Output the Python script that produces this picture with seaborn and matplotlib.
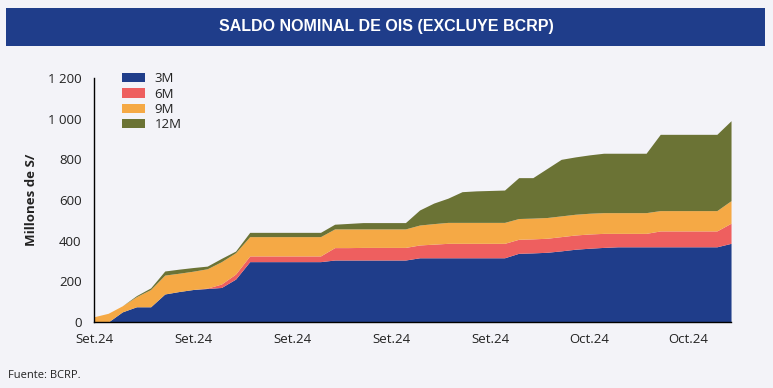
#!/usr/bin/env python3

import numpy as np
import matplotlib.pyplot as plt
import matplotlib.ticker as mticker
from matplotlib.patches import Rectangle
import seaborn as sns

# -----------------------------------------------------------------------------
# Data (millones de S/, saldo por plazo, stacked)
# -----------------------------------------------------------------------------

plazo_3m = [0, 0, 50, 75, 75, 138, 150, 160, 165, 170, 211, 297, 297, 297, 297,
            297, 297, 305, 305, 305, 305, 305, 305, 316, 316, 316, 316, 316, 316,
            316, 338, 340, 343, 350, 358, 363, 367, 370, 370, 370, 370, 370, 370,
            370, 370, 387]
plazo_6m = [0, 0, 0, 0, 0, 0, 0, 0, 2, 17, 25, 28, 28, 28, 28, 28, 28, 61, 61, 62,
            62, 62, 62, 63, 67, 71, 71, 71, 71, 71, 69, 69, 69, 70, 70, 70, 69, 66,
            66, 66, 78, 78, 78, 78, 78, 99]
plazo_9m = [26, 43, 30, 50, 85, 93, 90, 90, 95, 110, 105, 95, 95, 95, 95, 95, 95,
            92, 92, 91, 91, 91, 91, 98, 101, 103, 103, 103, 103, 103, 102, 102, 102,
            102, 102, 102, 102, 102, 102, 102, 100, 100, 100, 100, 100, 111]
plazo_12m = [0, 0, 0, 5, 8, 20, 20, 18, 13, 16, 8, 21, 21, 21, 21, 21, 21, 23, 27,
             31, 31, 31, 31, 74, 101, 119, 151, 155, 157, 159, 201, 199, 241, 278,
             282, 287, 292, 292, 292, 292, 375, 375, 375, 375, 375, 393]

series_labels = ["3M", "6M", "9M", "12M"]
series_colors = ["#1f3d8a", "#ee5f5f", "#f5a945", "#6b7335"]

tick_pos = [0, 7, 14, 21, 28, 35, 42]
tick_labels = ["Set.24", "Set.24", "Set.24", "Set.24", "Set.24", "Oct.24", "Oct.24"]

# -----------------------------------------------------------------------------
# Figure
# -----------------------------------------------------------------------------

BG = "#f3f3f8"
BANNER = "#1f3d8a"

sns.set_theme(style="white")
plt.rcParams["font.family"] = ["Open Sans", "DejaVu Sans"]

fig = plt.figure(figsize=(7.73, 3.88), dpi=100, facecolor=BG)
ax = fig.add_axes([0.1216, 0.170, 0.8241, 0.629])
ax.set_facecolor(BG)

x = np.arange(len(plazo_3m))
ax.stackplot(x, plazo_3m, plazo_6m, plazo_9m, plazo_12m,
             labels=series_labels, colors=series_colors, linewidth=0)

ax.set_xlim(0, len(x) - 1)
ax.set_ylim(0, 1200)
ax.set_yticks(range(0, 1201, 200))
ax.yaxis.set_major_formatter(
    mticker.FuncFormatter(lambda v, p: f"{v:,.0f}".replace(",", " ")))
ax.set_xticks(tick_pos)
ax.set_xticklabels(tick_labels)

sns.despine(ax=ax)
for side in ["left", "bottom"]:
    ax.spines[side].set_color("black")
    ax.spines[side].set_linewidth(1.0)
ax.tick_params(axis="both", which="major", direction="out", length=4,
               width=1, color="black", labelsize=9.5, labelcolor="#222222")
ax.tick_params(axis="y", pad=5)
ax.tick_params(axis="x", pad=4)
ax.set_ylabel("Millones de S/", fontsize=9.5, fontweight="bold",
              color="#222222", labelpad=7)

leg = ax.legend(loc="upper left", bbox_to_anchor=(0.035, 1.045), frameon=False,
                fontsize=9.5, handlelength=1.8, handleheight=0.7,
                labelspacing=0.18, handletextpad=0.7, borderaxespad=0)
for t in leg.get_texts():
    t.set_color("#222222")

# title banner
fig.patches.append(Rectangle((6 / 773, 1 - 46 / 388), 759 / 773, 38 / 388,
                             transform=fig.transFigure, facecolor=BANNER,
                             edgecolor="none", zorder=0))
fig.text(0.5, 1 - 27 / 388, "SALDO NOMINAL DE OIS (EXCLUYE BCRP)",
         ha="center", va="center", color="white", fontsize=11.5,
         fontweight="bold", family=["Liberation Sans", "DejaVu Sans"])

fig.text(8 / 773, 1 - 375 / 388, "Fuente: BCRP.", ha="left", va="center",
         fontsize=8, color="#222222")

fig.savefig("out.png", dpi=100, facecolor=BG)
